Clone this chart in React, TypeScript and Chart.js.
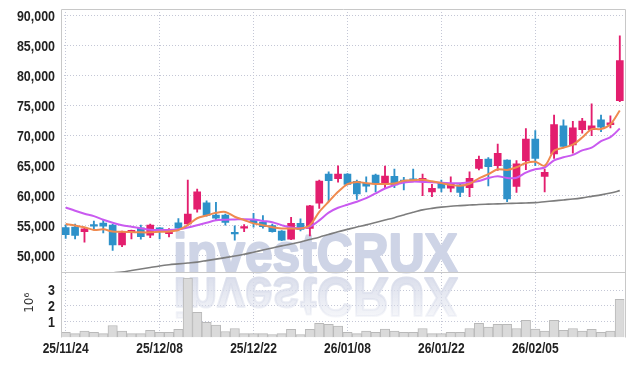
import React, { useEffect, useRef } from "react";
import { Chart, registerables } from "chart.js";
Chart.register(...registerables);

const dates = [
  "25/11/24","25/11/25","25/11/26","25/11/27","25/11/28","25/12/01","25/12/02","25/12/03","25/12/04","25/12/05",
  "25/12/08","25/12/09","25/12/10","25/12/11","25/12/12","25/12/15","25/12/16","25/12/17","25/12/18","25/12/19",
  "25/12/22","25/12/23","25/12/24","25/12/26","25/12/29","25/12/30","26/01/02","26/01/05","26/01/06","26/01/07",
  "26/01/08","26/01/09","26/01/12","26/01/13","26/01/14","26/01/15","26/01/16","26/01/19","26/01/20","26/01/21",
  "26/01/22","26/01/23","26/01/26","26/01/27","26/01/28","26/01/29","26/01/30","26/02/02","26/02/03","26/02/04",
  "26/02/05","26/02/06","26/02/09","26/02/10","26/02/11","26/02/12","26/02/13","26/02/19","26/02/20","26/02/23",
];

const openP = [
  54700,54800,54000,55100,55450,55100,51800,54000,54650,53450,
  54650,53700,55500,55300,57750,58830,56780,56780,53800,54600,
  55950,55600,55050,54100,52750,55400,54550,58750,63600,62850,
  63600,62400,62050,63450,61900,63250,62600,62650,62350,60650,
  62050,61250,61800,61350,64550,66100,65000,65950,61550,65850,
  69450,63200,66950,71650,68450,71000,71000,72650,71850,75850,
];
const highP = [
  55150,55300,54600,55800,55900,55250,54100,54300,55100,55300,
  54700,54550,56200,62600,61100,59170,58900,56950,55000,55200,
  57050,56700,55300,54200,56400,56150,58400,62600,64000,65000,
  63700,62600,63150,63600,64950,64450,63050,64450,63600,61900,
  62600,63150,62050,64000,66600,66350,68600,66000,65850,71200,
  70850,64450,73450,72650,72400,72900,75300,73450,73300,86650,
];
const lowP = [
  52900,52800,52250,54400,53800,50900,51500,52800,52750,53000,
  52800,53150,54300,55100,57250,56600,55950,55100,52600,54000,
  54750,54600,53950,52500,52700,54150,53300,57900,59000,62250,
  61800,59400,60650,60650,61250,61350,60950,62400,60000,59850,
  60650,60650,59850,59850,64300,61650,64200,59000,60550,64350,
  65000,60650,66200,68050,67100,70400,70000,70650,71300,75650,
];
const closeP = [
  53500,53400,54500,54950,54950,51800,53850,54200,53200,55100,
  54300,54300,54600,56950,60650,56730,56280,55560,53650,54700,
  55500,54850,54000,52600,55400,54400,58300,62450,62500,63600,
  61900,60300,61600,61950,63280,61800,62350,62550,62900,61250,
  61250,62050,60550,62900,66050,64850,67050,59450,65300,69450,
  66200,63900,71850,68220,71300,72450,71650,71400,72150,82500,
];
// volume in units of 10^6 shares
const volume = [
  0.32,0.25,0.40,0.32,0.25,0.76,0.40,0.25,0.25,0.45,
  0.32,0.32,0.51,3.76,1.59,0.96,0.78,0.38,0.57,0.25,
  0.25,0.25,0.19,0.25,0.51,0.19,0.51,0.89,0.83,0.72,
  0.32,0.25,0.40,0.32,0.53,0.40,0.32,0.32,0.57,0.25,
  0.25,0.32,0.32,0.57,0.89,0.66,0.83,0.83,0.57,1.08,
  0.53,0.40,1.08,0.45,0.57,0.40,0.51,0.32,0.40,2.42,
];
const ma5 = [
  55300,55050,54750,54300,54400,54050,54000,53950,53900,53900,
  54000,54050,54300,55100,56250,56700,57150,57300,56500,55950,
  55400,55100,54750,54550,54550,54550,55100,57300,59000,60650,
  61950,62300,62100,61950,61950,62050,62500,62600,62650,62400,
  62100,61800,61650,62000,62900,63600,64400,64300,64750,65450,
  65650,65000,67500,68000,68500,69700,71100,71100,71900,74200,
];
const ma20 = [
  58050,57500,57000,56600,56000,55500,55100,54850,54600,54350,
  54300,54280,54400,54700,55100,55500,55900,56000,56050,56100,
  56050,55800,55600,55100,54700,54600,54850,55900,57200,58000,
  58500,59000,59600,60400,61200,61800,62200,62350,62300,62250,
  62150,62100,62100,62200,62450,62950,63250,62950,63000,63850,
  64400,64700,65900,66400,66800,67550,68000,69100,69750,71200,
];
const ma60 = [
  46200,46400,46600,46800,47000,47150,47300,47550,47800,48050,
  48300,48500,48650,48800,48950,49200,49450,49700,49950,50250,
  50600,50950,51300,51650,51950,52300,52700,53100,53550,54000,
  54400,54800,55150,55550,55950,56350,56800,57250,57650,57900,
  58100,58250,58350,58450,58550,58600,58650,58700,58750,58800,
  58850,59000,59150,59300,59450,59650,59900,60150,60450,60850,
];

const priceTicks = [50000, 55000, 60000, 65000, 70000, 75000, 80000, 85000, 90000];
const volumeTicks = [1, 2, 3];
const volumeUnit = "10⁶";
const labelEvery = 10;

const UP = "#e31e6e";
const DOWN = "#2e91c9";
const GRID = "#c4c7d6";
const LABEL = "#222222";
const LABEL_FONT = "bold 15px 'Liberation Sans', Arial, sans-serif";

export default function App() {
  const ref = useRef<HTMLCanvasElement>(null);

  useEffect(() => {
    if (!ref.current) return;
    const isUp = (i: number) => closeP[i] >= openP[i];
    const candleColor = (c: any) => (isUp(c.dataIndex) ? UP : DOWN);

    const clipPlugin = {
      id: "panelClip",
      beforeDatasetDraw(chart: any, args: any) {
        const sc = chart.scales[args.meta.yAxisID];
        const { left, right } = chart.chartArea;
        chart.ctx.save();
        chart.ctx.beginPath();
        chart.ctx.rect(left, sc.top, right - left, sc.bottom - sc.top);
        chart.ctx.clip();
      },
      afterDatasetDraw(chart: any) {
        chart.ctx.restore();
      },
    };

    const watermarkPlugin = {
      id: "watermark",
      beforeDatasetsDraw(chart: any) {
        const ctx = chart.ctx;
        const ys = chart.scales.y;
        const { left, right } = chart.chartArea;
        const text = "investCRUX";
        ctx.save();
        ctx.font = `bold 56px 'Liberation Sans', Arial, sans-serif`;
        const w = ctx.measureText(text).width;
        const targetW = (right - left) * 0.505;
        const x0 = left + (right - left) * 0.199;
        const base = ys.bottom;
        ctx.translate(x0, base);
        ctx.scale(targetW / w, 1);
        ctx.lineJoin = "round";
        ctx.fillStyle = "rgb(206,212,230)";
        ctx.strokeStyle = "rgb(206,212,230)";
        ctx.lineWidth = 2.2;
        ctx.textBaseline = "alphabetic";
        ctx.fillText(text, 0, 0);
        ctx.strokeText(text, 0, 0);
        ctx.scale(1, -1);
        const g = ctx.createLinearGradient(0, -4, 0, -48);
        g.addColorStop(0, "rgba(216,220,234,0.95)");
        g.addColorStop(1, "rgba(216,220,234,0.2)");
        ctx.fillStyle = g;
        ctx.strokeStyle = g;
        ctx.fillText(text, 0, -6);
        ctx.strokeText(text, 0, -6);
        ctx.restore();
      },
    };

    const framePlugin = {
      id: "frame",
      afterDatasetsDraw(chart: any) {
        const ctx = chart.ctx;
        const { left, right, top } = chart.chartArea;
        const sep = chart.scales.y.bottom;
        const bottom = chart.scales.yv.bottom;
        ctx.save();
        ctx.strokeStyle = "#c8c8c8";
        ctx.lineWidth = 1;
        ctx.beginPath();
        const L = Math.round(left) + 0.5;
        const R = Math.round(right) + 0.5;
        const T = Math.round(top) + 0.5;
        const S = Math.round(sep) + 0.5;
        ctx.moveTo(L, bottom);
        ctx.lineTo(L, T);
        ctx.lineTo(R, T);
        ctx.lineTo(R, bottom);
        ctx.moveTo(L, S);
        ctx.lineTo(R, S);
        ctx.stroke();
        ctx.restore();
      },
    };

    // axis labels drawn in a narrow (horizontally condensed) face
    const labelPlugin = {
      id: "labels",
      afterDraw(chart: any) {
        const ctx = chart.ctx;
        const xs = chart.scales.x;
        const ys = chart.scales.y;
        const vs = chart.scales.yv;
        const { left } = chart.chartArea;
        const put = (t: string, x: number, y: number, align: CanvasTextAlign, sx: number) => {
          ctx.save();
          ctx.translate(x, y);
          ctx.scale(sx, 1);
          ctx.textAlign = align;
          ctx.fillText(t, 0, 0);
          ctx.restore();
        };
        ctx.save();
        ctx.fillStyle = LABEL;
        ctx.font = LABEL_FONT;
        ctx.textBaseline = "middle";
        priceTicks.forEach((v) => put(v.toLocaleString("en-US"), left - 6, ys.getPixelForValue(v) + 1, "right", 0.83));
        volumeTicks.forEach((v) => put(String(v), left - 6, vs.getPixelForValue(v) + 1, "right", 0.83));
        dates.forEach((d, i) => {
          if (i % labelEvery === 0) put(d, xs.getPixelForValue(i), xs.top + 11, "center", 0.8);
        });
        ctx.font = "12px 'DejaVu Sans', sans-serif";
        ctx.fillStyle = "#333";
        ctx.translate(left - 31, (vs.top + vs.bottom) / 2 - 2);
        ctx.rotate(-Math.PI / 2);
        ctx.textAlign = "center";
        ctx.fillText(volumeUnit, 0, 0);
        ctx.restore();
      },
    };

    const chart = new Chart(ref.current, {
      type: "bar",
      data: {
        labels: dates,
        datasets: [
          { type: "line", label: "MA5", data: ma5, yAxisID: "y", borderColor: "#ef8a4f", borderWidth: 2, pointRadius: 0, tension: 0.3, order: 0 } as any,
          { type: "line", label: "MA20", data: ma20, yAxisID: "y", borderColor: "#c95af0", borderWidth: 2, pointRadius: 0, tension: 0.3, order: 0 } as any,
          { type: "line", label: "MA60", data: ma60, yAxisID: "y", borderColor: "#7d7d7d", borderWidth: 1.6, pointRadius: 0, tension: 0.3, order: 0 } as any,
          {
            type: "bar", label: "body", data: openP.map((o, i) => [o, closeP[i]]), yAxisID: "y",
            backgroundColor: candleColor, barThickness: 7, minBarLength: 1.5, grouped: false, order: 1,
          } as any,
          {
            type: "bar", label: "wick", data: lowP.map((l, i) => [l, highP[i]]), yAxisID: "y",
            backgroundColor: candleColor, barThickness: 1.2, grouped: false, order: 2,
          } as any,
          {
            type: "bar", label: "volume", data: volume, yAxisID: "yv",
            backgroundColor: "#dadada", borderColor: "#b9b9b9", borderWidth: 1,
            barPercentage: 1, categoryPercentage: 1, grouped: false, order: 3,
          } as any,
        ],
      },
      options: {
        responsive: false,
        animation: false,
        devicePixelRatio: 1,
        layout: { padding: { left: 0, right: 9.5, top: 9, bottom: 0 } },
        plugins: { legend: { display: false }, tooltip: { enabled: false } },
        scales: {
          x: {
            grid: {
              offset: false,
              drawTicks: false,
              color: (c: any) => (c.index % labelEvery === 0 ? GRID : "transparent"),
            },
            border: { display: false, dash: [1, 2] },
            ticks: { display: false, autoSkip: false },
            afterFit: (s: any) => { s.height = 28.5; },
          },
          y: {
            position: "left", stack: "panels", stackWeight: 4.015, weight: 2,
            min: 47300, max: 91100,
            afterBuildTicks: (s: any) => { s.ticks = priceTicks.map((v) => ({ value: v })); },
            ticks: { display: false, autoSkip: false },
            grid: { color: GRID, drawTicks: false },
            border: { display: false, dash: [1, 2] },
            afterFit: (s: any) => { s.width = 61; },
          },
          yv: {
            position: "left", stack: "panels", stackWeight: 1, weight: 1,
            min: 0, max: 4.15,
            afterBuildTicks: (s: any) => { s.ticks = volumeTicks.map((v) => ({ value: v })); },
            ticks: { display: false, autoSkip: false },
            grid: { color: GRID, drawTicks: false },
            border: { display: false, dash: [1, 2] },
            afterFit: (s: any) => { s.width = 61; },
          },
        },
      } as any,
      plugins: [clipPlugin, watermarkPlugin, framePlugin, labelPlugin],
    });
    return () => chart.destroy();
  }, []);

  return (
    <div style={{ position: "fixed", left: 0, top: 0, width: 634, height: 366, background: "#fff" }}>
      <canvas ref={ref} width={634} height={366} style={{ display: "block" }} />
    </div>
  );
}
